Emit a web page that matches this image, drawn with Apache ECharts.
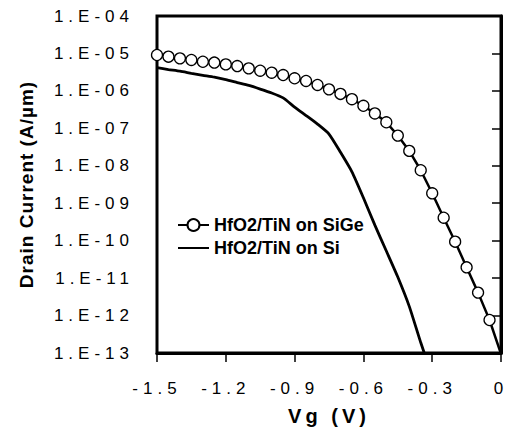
<!DOCTYPE html>
<html>
<head>
<meta charset="utf-8">
<script src="https://cdn.jsdelivr.net/npm/echarts@6/dist/echarts.min.js"></script>
<style>
  html, body { margin: 0; padding: 0; background: #fff; }
  #chart { width: 508px; height: 433px; }
  /* spaced-out lettering as in the reference */
  #chart text[style*="17px"] { letter-spacing: 5px; }
  #chart text[style*="20px"] { letter-spacing: 4px; }
  #chart text[style*="19px"] { letter-spacing: 1px; }
</style>
</head>
<body>
<div id="chart"></div>
<script>
// Gate voltage (V)
const vg = [-1.5, -1.45, -1.4, -1.35, -1.3, -1.25, -1.2, -1.15, -1.1, -1.05,
            -1.0, -0.95, -0.9, -0.85, -0.8, -0.75, -0.7, -0.65, -0.6, -0.55,
            -0.5, -0.45, -0.4, -0.35, -0.3, -0.25, -0.2, -0.15, -0.1, -0.05, 0];
// Drain current (A/um), HfO2/TiN on SiGe
const idSiGe = [9.1e-6, 8.2e-6, 7.4e-6, 6.7e-6, 6.0e-6, 5.7e-6, 5.1e-6, 4.6e-6, 4.0e-6, 3.46e-6,
                3.06e-6, 2.65e-6, 2.17e-6, 1.84e-6, 1.44e-6, 1.10e-6, 8.3e-7, 6.0e-7, 4.0e-7, 2.5e-7,
                1.45e-7, 6.4e-8, 2.5e-8, 7.6e-9, 1.84e-9, 4.1e-10, 9.4e-11, 1.94e-11, 4.1e-12, 7.6e-13, 9.5e-14];
// Drain current (A/um), HfO2/TiN on Si (same Vg grid, up to -0.3 V)
const idSi = [4.16e-6, 3.72e-6, 3.36e-6, 2.95e-6, 2.61e-6, 2.32e-6, 2.00e-6, 1.67e-6, 1.40e-6, 1.12e-6,
              8.8e-7, 6.5e-7, 3.7e-7, 2.2e-7, 1.3e-7, 7.05e-8, 2.3e-8, 6.9e-9, 1.4e-9, 2.6e-10,
              5.3e-11, 1.07e-11, 1.76e-12, 1.9e-13, 2.4e-14];
const seriesNames = ['HfO2/TiN on SiGe', 'HfO2/TiN on Si'];
const xTickLabels = ['-1.5', '-1.2', '-0.9', '-0.6', '-0.3', '0'];
const yTickLabels = ['1.E-13', '1.E-12', '1.E-11', '1.E-10', '1.E-09', '1.E-08', '1.E-07', '1.E-06', '1.E-05', '1.E-04'];

const yMin = 1e-13, yMax = 1e-4;
const font = 'Liberation Sans';

function pairs(ys) {
  return ys.map((v, i) => v < yMin ? { value: [vg[i], v], symbol: 'none' } : [vg[i], v]);
}

const chart = echarts.init(document.getElementById('chart'), null, { renderer: 'svg' });
chart.setOption({
  backgroundColor: '#fff',
  animation: false,
  grid: {
    left: 157, right: 7, top: 16, bottom: 80,
    show: true, borderColor: '#000', borderWidth: 3,
    containLabel: false, outerBoundsMode: 'none'
  },
  legend: {
    orient: 'vertical', left: 177, top: 216, padding: 0,
    itemWidth: 31, itemHeight: 15, itemGap: 5,
    data: [
      { name: seriesNames[0] },
      { name: seriesNames[1], itemStyle: { opacity: 0 } }
    ],
    textStyle: { fontFamily: font, fontSize: 18, fontWeight: 'bold', color: '#000' }
  },
  xAxis: {
    type: 'value', min: -1.5, max: 0, interval: 0.3,
    name: 'Vg (V)', nameLocation: 'middle', nameGap: 53,
    nameTextStyle: { fontFamily: font, fontSize: 20, fontWeight: 'bold', color: '#000' },
    axisLine: { show: true, lineStyle: { color: '#000', width: 3 } },
    axisTick: { show: true, inside: false, length: 9, lineStyle: { color: '#000', width: 1.5 } },
    axisLabel: {
      margin: 27, color: '#000', fontFamily: font, fontSize: 17,
      formatter: v => xTickLabels[Math.round((v + 1.5) / 0.3)]
    },
    splitLine: { show: false }
  },
  yAxis: {
    type: 'log', logBase: 10, min: yMin, max: yMax, splitNumber: 9,
    name: 'Drain Current (A/µm)', nameLocation: 'middle', nameGap: 121,
    nameTextStyle: { fontFamily: font, fontSize: 19, fontWeight: 'bold', color: '#000' },
    axisLine: { show: true, lineStyle: { color: '#000', width: 3 } },
    axisTick: { show: true, inside: false, length: 9, lineStyle: { color: '#000', width: 1.5 } },
    axisLabel: {
      margin: 23, color: '#000', fontFamily: font, fontSize: 17,
      formatter: v => yTickLabels[Math.round(Math.log10(v)) + 13]
    },
    splitLine: { show: false },
    minorTick: { show: false }
  },
  series: [
    {
      name: seriesNames[0], type: 'line', data: pairs(idSiGe),
      symbol: 'circle', symbolSize: 11, showAllSymbol: true, clip: true,
      lineStyle: { color: '#000', width: 2.5 },
      itemStyle: { color: '#fff', borderColor: '#000', borderWidth: 1.3 },
      z: 3
    },
    {
      name: seriesNames[1], type: 'line', data: pairs(idSi),
      symbol: 'none', smooth: 0.2, clip: true,
      lineStyle: { color: '#000', width: 2.8 },
      itemStyle: { color: '#000' },
      z: 2
    }
  ]
});
</script>
</body>
</html>
